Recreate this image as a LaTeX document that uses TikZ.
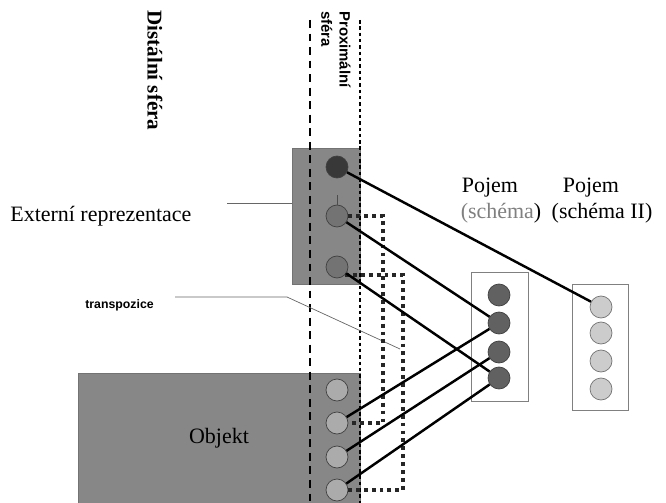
\documentclass[tikz,border=0pt]{standalone}
\usepackage{fontspec}
\setmainfont{Liberation Serif}
\newfontfamily\labelsans{Liberation Sans}
\begin{document}
\begin{tikzpicture}[x=0.02cm,y=-0.02cm,
  graybox/.style={draw=black!55,fill=black!47,inner sep=0pt},
  frame/.style={draw=black!50,thin,inner sep=0pt},
  ball/.style={circle,minimum size=0.44cm,inner sep=0pt,draw=black!75,fill=#1},
  conn/.style={draw=black,line width=1.4pt},
  sqdot/.style={draw=black!85,line width=1.8pt,dash pattern=on 2.2pt off 2.3pt},
  txt/.style={font=\fontsize{12.5}{15}\selectfont,inner sep=0pt}]
\useasboundingbox (0,0) rectangle (666,503);
% the two gray blocks
\node[graybox,minimum width=1.36cm,minimum height=2.72cm] (ubox) at (326,216) {};
\node[graybox,minimum width=5.64cm,minimum height=2.6cm,txt] (obox) at (219,438) {Objekt};
% sphere borders
\draw[line width=1.4pt,dash pattern=on 4.5pt off 3.2pt] (310,20) -- (310,503);
\draw[line width=1.2pt,dash pattern=on 2pt off 1.6pt] (360,20) -- (360,503);
\node[txt,font=\bfseries\fontsize{12}{14}\selectfont,rotate=-90,anchor=west] (dist) at (155,10) {Distální sféra};
\node[inner sep=0pt,font=\labelsans\bfseries\fontsize{8.5}{10.5}\selectfont,rotate=-90,anchor=north west,align=left] (prox) at (351,11) {Proximální\\sféra};
% circles
\node[ball=black!78] (u1) at (337,167) {};
\node[ball=black!55] (u2) at (337,216) {};
\node[ball=black!55] (u3) at (337,267) {};
\foreach \y [count=\i] in {390,423,457,490}
  \node[ball=black!33] (o\i) at (337,\y) {};
\node[frame,minimum width=1.14cm,minimum height=2.58cm] (pbox) at (499.5,336.5) {};
\node[frame,minimum width=1.12cm,minimum height=2.52cm] (qbox) at (600,347) {};
\foreach \y [count=\i] in {295,323,352,378}
  \node[ball=black!62] (p\i) at (499,\y) {};
\foreach \y [count=\i] in {307,333,361,389}
  \node[ball=black!20,draw=black!55] (q\i) at (601,\y) {};
% headings
\node[txt] (ptitle) at (490,188) {Pojem};
\node[txt] (psub) at (501,213) {\textcolor{black!50}{(schéma})};
\node[txt] (qtitle) at (591,188) {Pojem};
\node[txt] (qsub) at (602,213) {(schéma II)};
% labels
\node[txt,anchor=west] (ext) at (10,216) {Externí reprezentace};
\coordinate (extend) at (227,203);
\draw[black!60] (extend) -- (extend -| ubox.west);
\node[inner sep=0pt,font=\labelsans\bfseries\fontsize{7}{9}\selectfont,anchor=west] (trans) at (85,305) {transpozice};
\coordinate (transend) at (175,297);
\draw[black!60] (transend) -- (287,297) -- (400,349);
\draw[black!70] (u2.north) -- ++(0,-10);
% transposition frames
\draw[sqdot] (u2.east) -| (383,320) |- (o2.east);
\draw[sqdot] (u3.south east) -| (403,380) |- (o4.east);
% links
\draw[conn] (u1) -- (q1);
\draw[conn] (u2) -- (p2);
\draw[conn] (u3) -- (p4);
\draw[conn] (o2) -- (p2);
\draw[conn] (o3) -- (p3);
\draw[conn] (o4) -- (p4);
\end{tikzpicture}
\end{document}
